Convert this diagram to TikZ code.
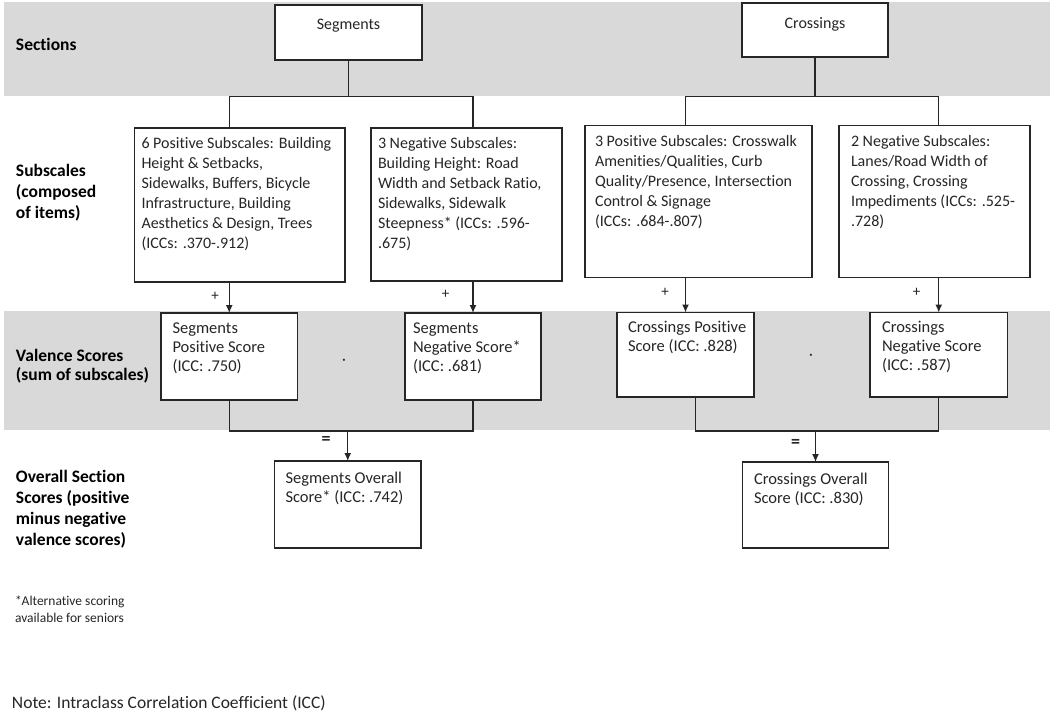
\documentclass[tikz,border=0pt]{standalone}
\usepackage{fontspec}
\setmainfont{Carlito}[Ligatures=NoCommon]
\usetikzlibrary{arrows.meta}
\definecolor{band}{HTML}{D9D9D9}
\definecolor{ink}{HTML}{262626}
\newcommand{\boxlines}[1]{\parbox[t]{400pt}{#1}}
\tikzset{
  box/.style={draw=ink, line width=1.4pt, fill=white, inner sep=0pt, outer sep=0pt, anchor=north west},
  txt/.style={inner sep=0pt, outer sep=0pt, anchor=base west, text=ink, font=\fontsize{16}{20}\selectfont},
  vtxt/.style={txt, font=\fontsize{16.5}{19}\selectfont},
  lbl/.style={inner sep=0pt, outer sep=0pt, anchor=base west, text=black, font=\bfseries\fontsize{17.5}{21}\selectfont},
  conn/.style={draw=ink, line width=1.4pt},
  arr/.style={conn, -{Latex[length=8pt,width=7pt]}},
  op/.style={inner sep=0pt, text=ink, font=\fontsize{15}{15}\selectfont}
}
\begin{document}
\begin{tikzpicture}[x=1pt,y=-1pt]
\path[use as bounding box, fill=white] (0,0) rectangle (1050,715);
\fill[band] (4,2) rectangle (1050,96);
\fill[band] (4,311) rectangle (1050,430);

% left labels
\node[lbl] (lsec) at (16,50) {Sections};
\node[lbl] (lsub) at (16,176) {\boxlines{Subscales\\(composed\\of items)}};
\node[lbl] (lval) at (16,361) {\boxlines{\fontsize{17.5}{19}\selectfont Valence Scores\\(sum of subscales)}};
\node[lbl] (lov) at (16,482) {\boxlines{Overall Section\\Scores (positive\\minus negative\\valence scores)}};
\node[txt, font=\fontsize{13.5}{17}\selectfont] (lfoot) at (15,605) {\boxlines{*Alternative scoring\\available for seniors}};
\node[txt, font=\fontsize{17.5}{21}\selectfont] (lnote) at (12,708) {Note: Intraclass Correlation Coefficient (ICC)};

% section boxes
\node[box, minimum width=147pt, minimum height=55pt] (seg) at (275,5) {};
\node[txt, anchor=base] (segt) at ([shift={(0,24)}]seg.north) {Segments};
\node[box, minimum width=146pt, minimum height=54pt] (cro) at (742,3) {};
\node[txt, anchor=base] (crot) at ([shift={(0,25)}]cro.north) {Crossings};

% subscale boxes
\node[box, minimum width=210.5pt, minimum height=154pt] (b1) at (134.5,128) {};
\node[txt] (b1t) at ([shift={(7,20)}]b1.north west) {\boxlines{6 Positive Subscales: Building\\Height \& Setbacks,\\Sidewalks, Buffers, Bicycle\\Infrastructure, Building\\Aesthetics \& Design, Trees\\(ICCs: .370-.912)}};
\node[box, minimum width=191pt, minimum height=153pt] (b2) at (371,128) {};
\node[txt] (b2t) at ([shift={(7,20)}]b2.north west) {\boxlines{3 Negative Subscales:\\Building Height: Road\\Width and Setback Ratio,\\Sidewalks, Sidewalk\\Steepness* (ICCs: .596-\\.675)}};
\node[box, minimum width=227pt, minimum height=152pt] (b3) at (585,125.5) {};
\node[txt] (b3t) at ([shift={(10,20.5)}]b3.north west) {\boxlines{3 Positive Subscales: Crosswalk\\Amenities/Qualities, Curb\\Quality/Presence, Intersection\\Control \& Signage\\(ICCs: .684-.807)}};
\node[box, minimum width=191pt, minimum height=152pt] (b4) at (839,125.5) {};
\node[txt] (b4t) at ([shift={(12,20.5)}]b4.north west) {\boxlines{2 Negative Subscales:\\Lanes/Road Width of\\Crossing, Crossing\\Impediments (ICCs: .525-\\.728)}};

% valence boxes
\node[box, minimum width=136.5pt, minimum height=87pt] (v1) at (161,313) {};
\node[vtxt] (v1t) at ([shift={(11.5,20)}]v1.north west) {\boxlines{Segments\\Positive Score\\(ICC: .750)}};
\node[box, minimum width=136pt, minimum height=87pt] (v2) at (405,313) {};
\node[vtxt] (v2t) at ([shift={(8,20)}]v2.north west) {\boxlines{Segments\\Negative Score*\\(ICC: .681)}};
\node[box, minimum width=137pt, minimum height=84.5pt] (v3) at (617,312.5) {};
\node[vtxt] (v3t) at ([shift={(11,19.5)}]v3.north west) {\boxlines{Crossings Positive\\Score (ICC: .828)}};
\node[box, minimum width=137.5pt, minimum height=84.5pt] (v4) at (870,312.5) {};
\node[vtxt] (v4t) at ([shift={(12,19.5)}]v4.north west) {\boxlines{Crossings\\Negative Score\\(ICC: .587)}};

% overall boxes
\node[box, minimum width=146.5pt, minimum height=87pt] (o1) at (274.5,461) {};
\node[vtxt] (o1t) at ([shift={(11,22)}]o1.north west) {\boxlines{Segments Overall\\Score* (ICC: .742)}};
\node[box, minimum width=146pt, minimum height=86pt] (o2) at (742.5,462) {};
\node[vtxt] (o2t) at ([shift={(11.5,22)}]o2.north west) {\boxlines{Crossings Overall\\Score (ICC: .830)}};

% top connectors
\draw[conn] (seg.south) -- ++(0,36.5) coordinate (sj);
\draw[conn] (b1.north -| v1.north) |- (sj) -| (b2.north -| v2.north);
\draw[conn] (cro.south) -- ++(0,39.5) coordinate (cj);
\draw[conn] (b3.north -| v3.north) |- (cj) -| (b4.north -| v4.north);

% subscale -> valence arrows
\draw[arr] (b1.south -| v1.north) -- (v1.north);
\draw[arr] (b2.south -| v2.north) -- (v2.north);
\draw[arr] (b3.south -| v3.north) -- (v3.north);
\draw[arr] (b4.south -| v4.north) -- (v4.north);

% valence -> overall
\draw[conn] (v1.south) -- ++(0,31) coordinate (l1) -| (v2.south);
\draw[arr] (l1 -| o1.north) -- (o1.north);
\draw[conn] ([xshift=10pt]v3.south) -- ++(0,34) coordinate (l3) -| (v4.south);
\draw[arr] (l3 -| o2.north) -- (o2.north);

% operators
\node[op] (p1) at (215,296) {+};
\node[op] (p2) at (445.5,294) {+};
\node[op] (p3) at (665,292) {+};
\node[op] (p4) at (916.5,292) {+};
\node[op] (m1) at (344,362) {·};
\node[op] (m2) at (811,357) {·};
\node[op, font=\bfseries\fontsize{18}{18}\selectfont] (e1) at (326,440) {=};
\node[op, font=\bfseries\fontsize{18}{18}\selectfont] (e2) at (795.5,443) {=};
\end{tikzpicture}
\end{document}
